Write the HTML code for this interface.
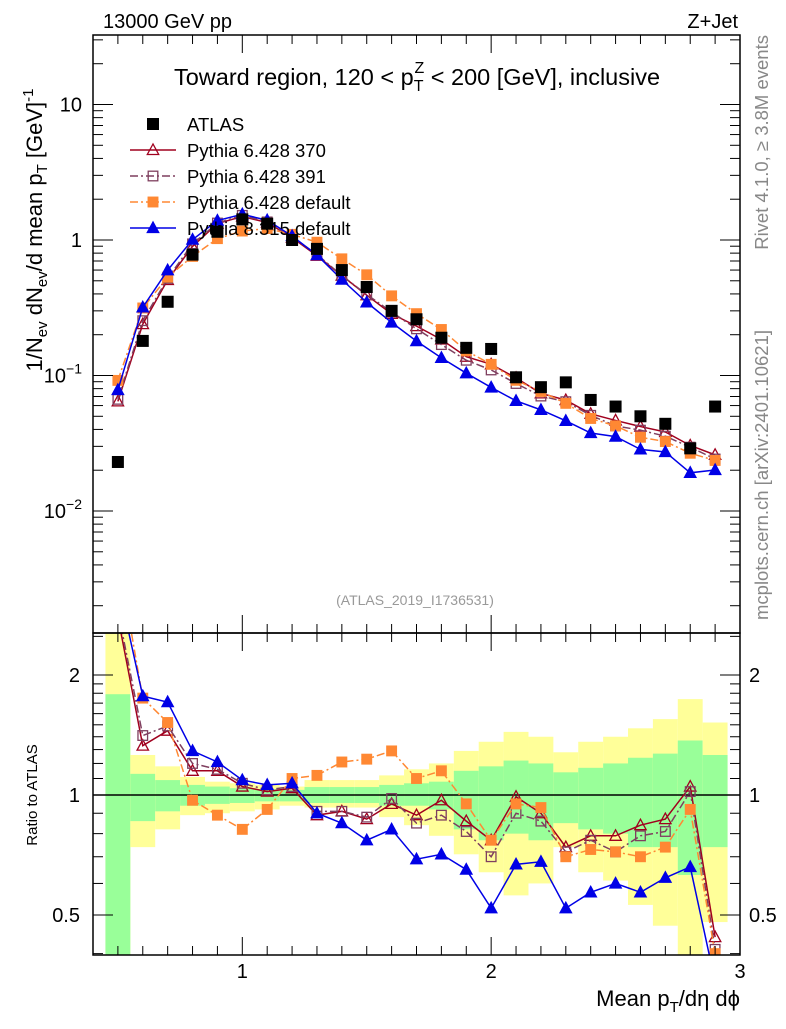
<!DOCTYPE html>
<html><head><meta charset="utf-8"><style>
body{margin:0;background:#fff;}
svg text{font-family:"Liberation Sans",sans-serif;}
</style></head><body>
<svg id="c" width="786" height="1024" xmlns="http://www.w3.org/2000/svg"></svg>
<script>
const xs=[0.5,0.6,0.7,0.8,0.9,1.0,1.1,1.2,1.3,1.4,1.5,1.6,1.7,1.8,1.9,2.0,2.1,2.2,2.3,2.4,2.5,2.6,2.7,2.8,2.9];
const atlas=[0.023,0.18,0.35,0.78,1.15,1.42,1.32,1.0,0.86,0.6,0.45,0.30,0.26,0.19,0.16,0.157,0.097,0.082,0.089,0.066,0.059,0.05,0.044,0.029,0.059];
const r370=[2.8,1.33,1.45,1.15,1.15,1.05,1.02,1.04,0.89,0.91,0.87,0.95,0.89,0.97,0.86,0.77,0.99,0.90,0.74,0.79,0.79,0.84,0.87,1.05,0.44];
const r391=[2.9,1.41,1.49,1.20,1.16,1.07,1.03,1.05,0.91,0.91,0.88,0.98,0.85,0.89,0.81,0.70,0.90,0.86,0.72,0.77,0.72,0.79,0.81,1.02,0.41];
const rdef=[4.0,1.75,1.52,0.97,0.89,0.82,0.92,1.10,1.12,1.21,1.23,1.29,1.10,1.15,0.95,0.77,0.95,0.93,0.70,0.73,0.72,0.70,0.74,0.92,0.40];
const rp8=[3.4,1.77,1.71,1.29,1.21,1.09,1.06,1.07,0.90,0.85,0.77,0.82,0.69,0.71,0.65,0.52,0.67,0.68,0.52,0.57,0.60,0.57,0.62,0.66,0.34];
const yelUp=[3,1.26,1.18,1.11,1.08,1.07,1.06,1.05,1.09,1.09,1.09,1.12,1.16,1.20,1.29,1.36,1.44,1.40,1.28,1.36,1.40,1.47,1.55,1.74,1.52];
const grnUp=[1.79,1.13,1.09,1.06,1.05,1.04,1.035,1.03,1.047,1.047,1.047,1.06,1.07,1.08,1.15,1.18,1.22,1.20,1.14,1.17,1.20,1.24,1.27,1.37,1.26];
const grnLo=[0.3,0.86,0.91,0.94,0.95,0.955,0.964,0.964,0.955,0.955,0.955,0.94,0.94,0.92,0.82,0.77,0.80,0.77,0.85,0.82,0.80,0.74,0.74,0.63,0.74];
const yelLo=[0.3,0.74,0.82,0.89,0.90,0.91,0.92,0.94,0.93,0.93,0.93,0.88,0.84,0.79,0.71,0.64,0.56,0.60,0.74,0.64,0.61,0.53,0.47,0.3,0.48];
const xTicks=[1,2,3];

const S=document.getElementById('c');
const NS='http://www.w3.org/2000/svg';
function el(t,a,p){const e=document.createElementNS(NS,t);for(const k in a)e.setAttribute(k,a[k]);(p||S).appendChild(e);return e;}
const L=93,R=740,T=35,M=633,B=955;
const X=v=>L+(v-0.4)*(R-L)/2.6;
const Y=v=>240-135.5*Math.log10(v);
const YR=v=>795-120*Math.log2(v);

const defs=el('defs',{});
const c1=el('clipPath',{id:'cm'},defs);el('rect',{x:L,y:T,width:R-L,height:M-T},c1);
const c2=el('clipPath',{id:'cr'},defs);el('rect',{x:L,y:M,width:R-L,height:B-M},c2);

const gb=el('g',{'clip-path':'url(#cr)'});


xs.forEach((x,i)=>{
  const x0=X(x-0.05),w=X(x+0.05)-x0;
  const y1=el('rect',{x:x0,y:YR(yelUp[i]),width:w,height:YR(yelLo[i])-YR(yelUp[i]),fill:'#ffff99'},gb);
  
  
  const g1=el('rect',{x:x0,y:YR(grnUp[i]),width:w,height:YR(grnLo[i])-YR(grnUp[i]),fill:'#99ff99'},gb);
  
  
});
el('line',{x1:L,x2:R,y1:YR(1),y2:YR(1),stroke:'#000','stroke-width':1.5});

const series=[
 {r:r370,c:'#a0001e',dash:'',m:'tri-open',name:'pythia-6428-370'},
 {r:r391,c:'#7f3f5f',dash:'8,3,2,3',m:'sq-open',name:'pythia-6428-391'},
 {r:rdef,c:'#ff8833',dash:'8,3,2,3',m:'sq-fill',name:'pythia-6428-default'},
 {r:rp8,c:'#0000e6',dash:'',m:'tri-fill',name:'pythia-8315-default'}];
function marker(g,m,x,y,c,s){
  let e;
  if(m==='tri-open'||m==='tri-fill'){const h=s;e=el('polygon',{points:`${x},${y-h} ${x-h*0.95},${y+h*0.75} ${x+h*0.95},${y+h*0.75}`,fill:m==='tri-fill'?c:'#fff','fill-opacity':m==='tri-fill'?1:0,stroke:c,'stroke-width':1.3},g);}
  else {e=el('rect',{x:x-s*0.8,y:y-s*0.8,width:s*1.6,height:s*1.6,fill:m==='sq-fill'?c:'none',stroke:c,'stroke-width':1.3},g);}
  return e;
}
series.forEach(s=>{
  const gm=el('g',{'clip-path':'url(#cm)'});
  
  
  const gr=el('g',{'clip-path':'url(#cr)'});
  
  
  const pm=xs.map((x,i)=>X(x)+','+Y(atlas[i]*s.r[i])).join(' ');
  el('polyline',{points:pm,fill:'none',stroke:s.c,'stroke-width':1.5,'stroke-dasharray':s.dash},gm);
  const pr=xs.map((x,i)=>X(x)+','+YR(s.r[i])).join(' ');
  el('polyline',{points:pr,fill:'none',stroke:s.c,'stroke-width':1.5,'stroke-dasharray':s.dash},gr);
  xs.forEach((x,i)=>{
    const a=marker(gm,s.m,X(x),Y(atlas[i]*s.r[i]),s.c,6);
    
    
    const b=marker(gr,s.m,X(x),YR(s.r[i]),s.c,6);
    
    
  });
});
const ga=el('g',{'clip-path':'url(#cm)'});


xs.forEach((x,i)=>{
  const r=el('rect',{x:X(x)-6,y:Y(atlas[i])-6,width:12,height:12,fill:'#000'},ga);
  
  
});

el('rect',{x:L,y:T,width:R-L,height:M-T,fill:'none',stroke:'#000','stroke-width':1.5});
el('rect',{x:L,y:M,width:R-L,height:B-M,fill:'none',stroke:'#000','stroke-width':1.5});
for(let k=5;k<=29;k++){
  const v=k/10,x=X(v),maj=(k%10===0);const len=maj?18:9;
  [[T,1],[M,-1],[M,1],[B,-1]].forEach(([y,d])=>el('line',{x1:x,x2:x,y1:y,y2:y+d*len,stroke:'#000','stroke-width':1}));
}
xTicks.forEach(v=>{
  const t=el('text',{x:X(v),y:978,'font-size':20,'text-anchor':'middle'});t.textContent=v;
  
  
});
for(let d=-3;d<=1;d++){for(let m=1;m<=9;m++){const v=m*Math.pow(10,d),y=Y(v);if(y<T||y>M)continue;const len=m===1?20:10;
  el('line',{x1:L,x2:L+len,y1:y,y2:y,stroke:'#000'});el('line',{x1:R,x2:R-len,y1:y,y2:y,stroke:'#000'});}}
function ylab(y,html,name){const t=el('text',{x:82,y:y+7,'font-size':20,'text-anchor':'end'});t.innerHTML=html;}
ylab(Y(10),'10','y-tick-10');ylab(Y(1),'1','y-tick-1');
ylab(Y(0.1),'10<tspan dy="-9" font-size="14">−1</tspan>','y-tick-0.1');
ylab(Y(0.01),'10<tspan dy="-9" font-size="14">−2</tspan>','y-tick-0.01');
[0.4,0.5,0.6,0.7,0.8,0.9,1,1.1,1.2,1.3,1.4,1.5,1.6,1.7,1.8,1.9,2,2.5].forEach(v=>{const y=YR(v);const len=(v===0.5||v===1||v===2)?20:10;
  el('line',{x1:L,x2:L+len,y1:y,y2:y,stroke:'#000'});el('line',{x1:R,x2:R-len,y1:y,y2:y,stroke:'#000'});});
[[2,'2'],[1,'1'],[0.5,'0.5']].forEach(([v,s])=>{
  const a=el('text',{x:80,y:YR(v)+7,'font-size':20,'text-anchor':'end'});a.textContent=s;
  
  const b=el('text',{x:749,y:YR(v)+7,'font-size':20});b.textContent=s;
  
});

const lg=el('g',{});


const ents=[['ATLAS',null],['Pythia 6.428 370',series[0]],['Pythia 6.428 391',series[1]],['Pythia 6.428 default',series[2]],['Pythia 8.315 default',series[3]]];
ents.forEach((e,i)=>{
  const y=124+i*26;
  const g=el('g',{},lg);
  
  
  if(!e[1]){el('rect',{x:147,y:y-6,width:12,height:12,fill:'#000'},g);}
  else{el('line',{x1:130,x2:176,y1:y,y2:y,stroke:e[1].c,'stroke-width':1.5,'stroke-dasharray':e[1].dash},g);marker(g,e[1].m,153,y,e[1].c,6);}
  const t=el('text',{x:187,y:y+7,'font-size':18.5},g);t.textContent=e[0];
});
</script>
<svg width="786" height="1024" style="position:absolute;left:0;top:0" xmlns="http://www.w3.org/2000/svg">
<text x="103" y="28" font-size="20" font-family="Liberation Sans">13000 GeV pp</text>
<text x="738" y="28" font-size="20" font-family="Liberation Sans" text-anchor="end">Z+Jet</text>
<text x="417" y="85" font-size="23.5" font-family="Liberation Sans" text-anchor="middle">Toward region, 120 &lt; p<tspan dy="6" font-size="16">T</tspan><tspan dy="-18" dx="-9" font-size="16">Z</tspan><tspan dy="12"> &lt; 200 [GeV], inclusive</tspan></text>
<text x="415" y="605" font-size="14" fill="#999" font-family="Liberation Sans" text-anchor="middle">(ATLAS_2019_I1736531)</text>
<text transform="translate(768,35) rotate(-90)" font-size="18.5" fill="#888" font-family="Liberation Sans" text-anchor="end">Rivet 4.1.0, ≥ 3.8M events</text>
<text transform="translate(768,330) rotate(-90)" font-size="18.5" fill="#888" font-family="Liberation Sans" text-anchor="end">mcplots.cern.ch [arXiv:2401.10621]</text>
<text transform="translate(42,230) rotate(-90)" font-size="22" font-family="Liberation Sans" text-anchor="middle">1/N<tspan dy="5" font-size="15">ev</tspan><tspan dy="-5"> dN</tspan><tspan dy="5" font-size="15">ev</tspan><tspan dy="-5">/d mean p</tspan><tspan dy="5" font-size="15">T</tspan><tspan dy="-5"> [GeV]</tspan><tspan dy="-9" font-size="15">-1</tspan></text>
<text transform="translate(37,795) rotate(-90)" font-size="15" font-family="Liberation Sans" text-anchor="middle">Ratio to ATLAS</text>
<text x="740" y="1006" font-size="22" font-family="Liberation Sans" text-anchor="end">Mean p<tspan dy="6" font-size="15">T</tspan><tspan dy="-6">/dη dϕ</tspan></text>
</svg>
</body></html>
